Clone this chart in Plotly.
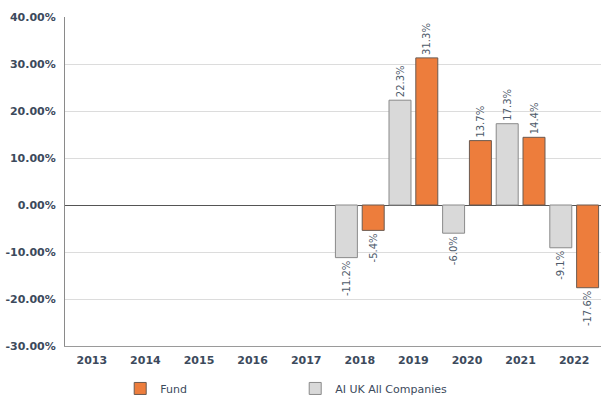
import plotly.graph_objects as go

years = ["2013", "2014", "2015", "2016", "2017", "2018", "2019", "2020", "2021", "2022"]
sector_vals = [None, None, None, None, None, -11.2, 22.3, -6.0, 17.3, -9.1]
fund_vals = [None, None, None, None, None, -5.4, 31.3, 13.7, 14.4, -17.6]
y_ticks = [-30, -20, -10, 0, 10, 20, 30, 40]
y_ticktext = ["-30.00%", "-20.00%", "-10.00%", "0.00%", "10.00%", "20.00%", "30.00%", "40.00%"]

FONT = "DejaVu Sans"
TXT = "#3c4a5c"

fig = go.Figure()
fig.add_trace(go.Bar(
    x=years, y=sector_vals, name="AI UK All Companies", legendrank=2,
    marker=dict(color="#d9d9d9", line=dict(color="#8a8a8a", width=1)),
    texttemplate="%{y:.1f}%", textposition="outside", textangle=-90,
    constraintext="none", cliponaxis=False,
    textfont=dict(family=FONT, size=10, color="#4d5a6a"),
))
fig.add_trace(go.Bar(
    x=years, y=fund_vals, name="Fund", legendrank=1,
    marker=dict(color="#ed7d3c", line=dict(color="#6b5a50", width=1)),
    texttemplate="%{y:.1f}%", textposition="outside", textangle=-90,
    constraintext="none", cliponaxis=False,
    textfont=dict(family=FONT, size=10, color="#4d5a6a"),
))

fig.update_layout(
    width=601, height=400,
    margin=dict(l=65, r=0, t=17, b=54, autoexpand=False),
    paper_bgcolor="white", plot_bgcolor="white",
    barmode="group", bargap=0.0, bargroupgap=0.18,
    font=dict(family=FONT, color=TXT),
    showlegend=True,
    legend=dict(orientation="h", x=0.103, xanchor="left", y=-0.085, yanchor="top",
                font=dict(family=FONT, size=11, color=TXT),
                entrywidth=130, entrywidthmode="pixels",
                itemwidth=30, traceorder="normal"),
)
fig.update_xaxes(
    type="category", showgrid=False, showline=True, linecolor="#9a9a9a", linewidth=1,
    tickfont=dict(family=FONT, size=11, color=TXT, weight="bold"),
    ticks="", ticklabelstandoff=4, automargin=False,
)
fig.update_yaxes(
    range=[-30, 40], tickvals=y_ticks, ticktext=y_ticktext,
    showgrid=True, gridcolor="#dcdcdc", gridwidth=1,
    zeroline=True, zerolinecolor="#555555", zerolinewidth=1,
    showline=True, linecolor="#8a8a8a", linewidth=1,
    tickfont=dict(family=FONT, size=11, color=TXT, weight="bold"),
    ticks="", ticklabelstandoff=6, automargin=False,
)

fig.write_html("out.html", config={"displayModeBar": False},
               post_script="document.body.style.margin='0';document.body.style.overflow='hidden';")
